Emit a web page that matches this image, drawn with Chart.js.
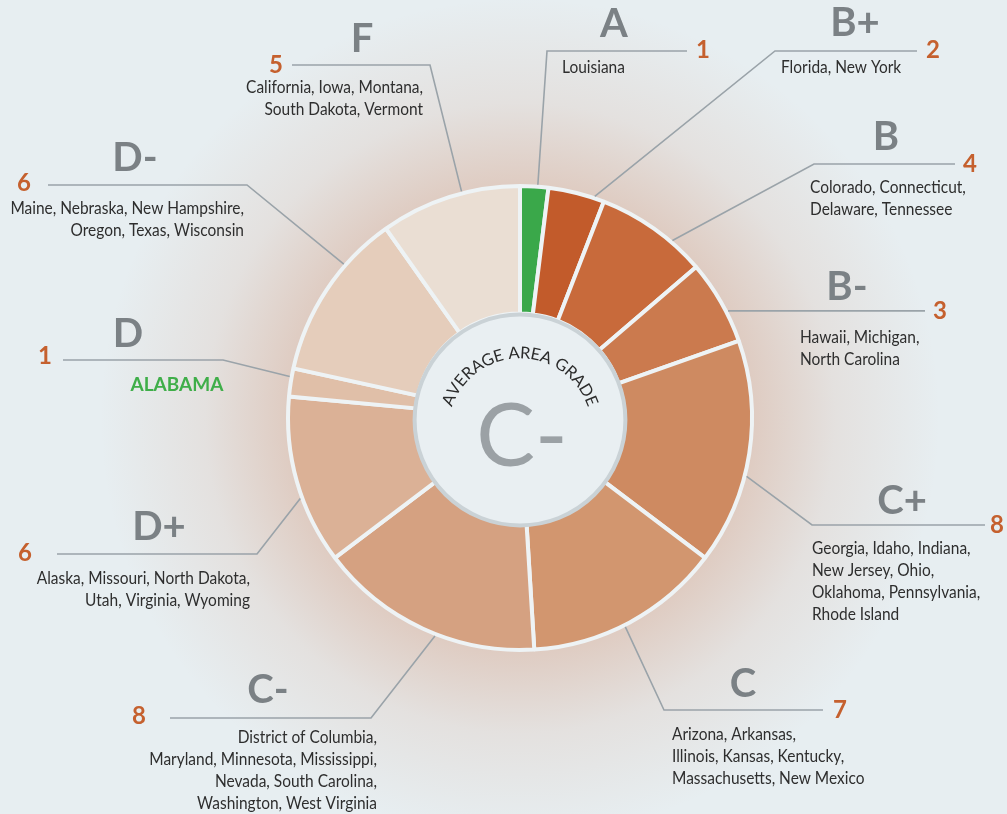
<!DOCTYPE html>
<html><head><meta charset="utf-8">
<script src="https://cdn.jsdelivr.net/npm/chart.js@4.4.0/dist/chart.umd.min.js"></script>
<style>html,body{margin:0;padding:0;background:#e7eef1;overflow:hidden}canvas{display:block}</style>
</head><body>
<canvas id="c" width="1007" height="814"></canvas>
<script>
// ---- data ----
const grades = ['A','B+','B','B-','C+','C','C-','D+','D','D-','F'];
const counts = [1,2,4,3,8,7,8,6,1,6,5];
const stateLists = [
  ['Louisiana'],
  ['Florida, New York'],
  ['Colorado, Connecticut,','Delaware, Tennessee'],
  ['Hawaii, Michigan,','North Carolina'],
  ['Georgia, Idaho, Indiana,','New Jersey, Ohio,','Oklahoma, Pennsylvania,','Rhode Island'],
  ['Arizona, Arkansas,','Illinois, Kansas, Kentucky,','Massachusetts, New Mexico'],
  ['District of Columbia,','Maryland, Minnesota, Mississippi,','Nevada, South Carolina,','Washington, West Virginia'],
  ['Alaska, Missouri, North Dakota,','Utah, Virginia, Wyoming'],
  ['ALABAMA'],
  ['Maine, Nebraska, New Hampshire,','Oregon, Texas, Wisconsin'],
  ['California, Iowa, Montana,','South Dakota, Vermont']
];
const averageGrade = 'C-';
const centerTitle = 'AVERAGE AREA GRADE';

// ---- styles ----
const segColors = ['#3aa84a','#c25b2b','#c86a3b','#cb7a4e','#ce8a61','#d2966f','#d5a181','#dbb196','#e0bfa8','#e5cdbb','#eaded3'];
const highlightText = [false,false,false,false,false,false,false,false,true,false,false];

// ---- label layout (annotation positions) ----
const labelLayout = [
  {frac:.62, elbow:[547,51],  endX:687, num:[703,49],  grade:[614,22],  text:[562,67],  align:'left'},
  {frac:.82, elbow:[775,51],  endX:917, num:[933,49],  grade:[855,21],  text:[781,67],  align:'left'},
  {frac:.69, elbow:[814,164], endX:955, num:[970,163], grade:[886,135], text:[810,187], align:'left'},
  {frac:.63, elbow:null,      endX:925, num:[940,310], grade:[847,285], text:[800,337], align:'left'},
  {frac:.60, elbow:[812,525], endX:985, num:[997,524], grade:[902,499], text:[812,548], align:'left'},
  {frac:.53, elbow:[664,710], endX:823, num:[840,709], grade:[743,682], text:[672,734], align:'left'},
  {frac:.44, elbow:[371,718], endX:170, num:[139,715], grade:[268,688], text:[377,737], align:'right'},
  {frac:.40, elbow:[257,554], endX:57,  num:[25,552],  grade:[159,525], text:[250,578], align:'right'},
  {frac:.70, elbow:[223,360], endX:63,  num:[45,355],  grade:[128,332], text:[177,384], align:'center'},
  {frac:.68, elbow:[247,185], endX:48,  num:[24,182],  grade:[135,156], text:[244,208], align:'right'},
  {frac:.59, elbow:[430,65],  endX:292, num:[276,64],  grade:[362,37],  text:[423,87],  align:'right'}
];
const LINE_H = 22;
const TEXT_FONT = '17px Lato';
const TEXT_SCALE = 0.91;

function drawScaledText(ctx, str, x, y, align, scale){
  ctx.save();
  ctx.translate(x, y);
  ctx.scale(scale, 1);
  ctx.textAlign = align;
  ctx.fillText(str, 0, 0);
  ctx.restore();
}

const decorPlugin = {
  id: 'decor',
  beforeDraw(chart){
    const ctx = chart.ctx;
    const arc = chart.getDatasetMeta(0).data[0];
    const cx = arc.x, cy = arc.y;
    ctx.save();
    ctx.fillStyle = '#e7eef1';
    ctx.fillRect(0,0,chart.width,chart.height);
    const g = ctx.createRadialGradient(cx,cy,0,cx,cy,420);
    g.addColorStop(0,'rgba(205,130,92,0.45)');
    g.addColorStop(0.55,'rgba(205,130,92,0.32)');
    g.addColorStop(0.75,'rgba(205,130,92,0.12)');
    g.addColorStop(1,'rgba(205,130,92,0)');
    ctx.fillStyle = g;
    ctx.fillRect(0,0,chart.width,chart.height);
    ctx.restore();
  },
  afterDraw(chart){
    const ctx = chart.ctx;
    const meta = chart.getDatasetMeta(0);
    const a0 = meta.data[0];
    const cx = a0.x, cy = a0.y;
    ctx.save();
    // center disc
    ctx.beginPath();
    ctx.arc(cx, cy + 2, a0.innerRadius + 1, 0, Math.PI*2);
    ctx.fillStyle = '#e9eff2';
    ctx.fill();
    ctx.lineWidth = 4;
    ctx.strokeStyle = '#cad2d6';
    ctx.stroke();

    // curved title
    ctx.font = '16.5px Lato';
    ctx.fillStyle = '#2b2b2b';
    ctx.textAlign = 'center';
    ctx.textBaseline = 'middle';
    const r = 77, tcx = cx, tcy = cy + 12, ls = 0.6;
    const widths = [...centerTitle].map(ch => ctx.measureText(ch).width + ls);
    const total = widths.reduce((s,w)=>s+w,0);
    let off = 0;
    const start = -Math.PI/2 - (total/2)/r;
    [...centerTitle].forEach((ch,i)=>{
      const a = start + (off + widths[i]/2)/r;
      off += widths[i];
      ctx.save();
      ctx.translate(tcx + r*Math.cos(a), tcy + r*Math.sin(a));
      ctx.rotate(a + Math.PI/2);
      ctx.fillText(ch, 0, 0);
      ctx.restore();
    });

    // big average grade
    ctx.font = '88px Lato';
    ctx.fillStyle = '#9ba1a5';
    ctx.textAlign = 'center';
    ctx.textBaseline = 'alphabetic';
    ctx.fillText(averageGrade, cx + 2, cy + 48);

    // leader lines + labels
    meta.data.forEach((arc, i) => {
      const L = labelLayout[i];
      const ang = arc.startAngle + L.frac*(arc.endAngle - arc.startAngle);
      const sx = cx + Math.cos(ang)*(arc.outerRadius + 2);
      const sy = cy + Math.sin(ang)*(arc.outerRadius + 2);
      ctx.beginPath();
      ctx.moveTo(sx, sy);
      let ly;
      if (L.elbow){ ctx.lineTo(L.elbow[0], L.elbow[1]); ly = L.elbow[1]; }
      else { ly = sy; }
      ctx.lineTo(L.endX, ly);
      ctx.strokeStyle = '#9aa3a9';
      ctx.lineWidth = 1.6;
      ctx.stroke();

      // grade letter
      ctx.font = 'bold 40px Lato';
      ctx.fillStyle = '#7b8185';
      ctx.textAlign = 'center';
      ctx.textBaseline = 'alphabetic';
      ctx.fillText(grades[i], L.grade[0], L.grade[1] + 14.5);
      // count
      ctx.font = 'bold 24px Lato';
      ctx.fillStyle = '#c5602e';
      ctx.fillText(String(counts[i]), L.num[0], L.num[1] + 8.6);
      // states
      if (highlightText[i]){
        ctx.font = 'bold 19px Lato';
        ctx.fillStyle = '#3fae49';
        ctx.textAlign = 'center';
        ctx.fillText(stateLists[i][0], L.text[0], L.text[1] + 7);
      } else {
        ctx.font = TEXT_FONT;
        ctx.fillStyle = '#2e2e2e';
        stateLists[i].forEach((line, k) => {
          drawScaledText(ctx, line, L.text[0], L.text[1] + k*LINE_H + 5.8, L.align, TEXT_SCALE);
        });
      }
    });
    ctx.restore();
  }
};

new Chart(document.getElementById('c'), {
  type: 'doughnut',
  data: {
    labels: grades,
    datasets: [{
      data: counts,
      backgroundColor: segColors,
      borderColor: '#eef3f5',
      borderWidth: 4,
      hoverOffset: 0
    }]
  },
  options: {
    responsive: false,
    animation: false,
    events: [],
    cutout: '45%',
    layout: { padding: { left: 286, top: 184, right: 253, bottom: 162 } },
    plugins: { legend: { display: false }, tooltip: { enabled: false } }
  },
  plugins: [decorPlugin]
});
</script>
</body></html>
